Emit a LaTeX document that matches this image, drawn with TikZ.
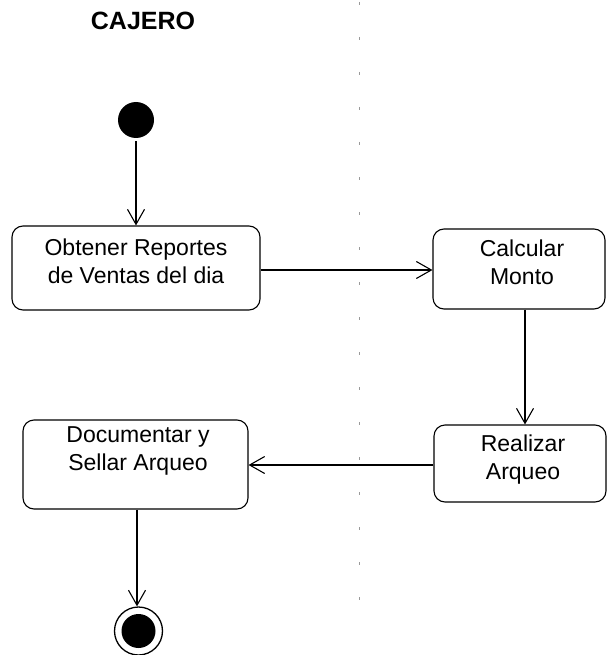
\documentclass[tikz,border=0pt]{standalone}
\usepackage{fontspec}
\setmainfont{Liberation Sans}
\usetikzlibrary{arrows.meta}

\tikzset{
  activity/.style={draw=black, line width=1.1pt, rounded corners=11pt, inner sep=0pt},
  acttext/.style={inner sep=0pt, align=center, text depth=0pt,
                  font=\fontsize{23}{28}\selectfont},
  flow/.style={draw=black, line width=1.1pt,
               -{Straight Barb[length=15pt, width=17pt, line width=1.1pt]}},
  lane/.style={draw=black!40, line width=0.8pt, dash pattern=on 3pt off 32pt},
}

\begin{document}
\begin{tikzpicture}[x=1pt, y=-1pt]
  \useasboundingbox (0,0) rectangle (607,655);

  % swimlane title and separator
  \node[font=\bfseries\fontsize{25}{28}\selectfont, inner sep=0pt] (title) at (143,21) {CAJERO};
  \coordinate (laneTop) at (359,2);
  \coordinate (laneBot) at (359,600);
  \draw[lane] (laneTop) -- (laneBot);

  % initial state
  \node[circle, fill=black, minimum size=36pt, inner sep=0pt] (start) at (136,120) {};

  % activities
  \node[activity, minimum width=248pt, minimum height=84pt] (b1) at (136,268) {};
  \node[acttext] (t1) at (136,261) {Obtener Reportes\\de Ventas del dia};

  \node[activity, minimum width=172pt, minimum height=80pt] (b2) at (519,269) {};
  \node[acttext] (t2) at (522,262) {Calcular\\Monto};

  \node[activity, minimum width=172pt, minimum height=77pt] (b3) at (520,463.5) {};
  \node[acttext] (t3) at (523,457) {Realizar\\Arqueo};

  \node[activity, minimum width=225pt, minimum height=89pt] (b4) at (135.5,464.5) {};
  \node[acttext] (t4) at (138,449) {Documentar y\\Sellar Arqueo};

  % final state
  \node[circle, draw=black, line width=1.3pt, minimum size=48pt, inner sep=0pt] (fin) at (138.5,631) {};
  \node[circle, fill=black, minimum size=34pt, inner sep=0pt] (finIn) at (fin.center) {};

  % transitions
  \draw[flow] ([yshift=-3pt]start.south -| b1.north) -- (b1.north);
  \draw[flow] (b1.east |- 0,270) -- (b2.west |- 0,270);
  \draw[flow] (b2.south -| 525,0) -- (b3.north -| 525,0);
  \draw[flow] (b3.west |- 0,465) -- (b4.east |- 0,465);
  \draw[flow] (b4.south -| 137,0) -- (fin.north -| 137,0);
\end{tikzpicture}
\end{document}
